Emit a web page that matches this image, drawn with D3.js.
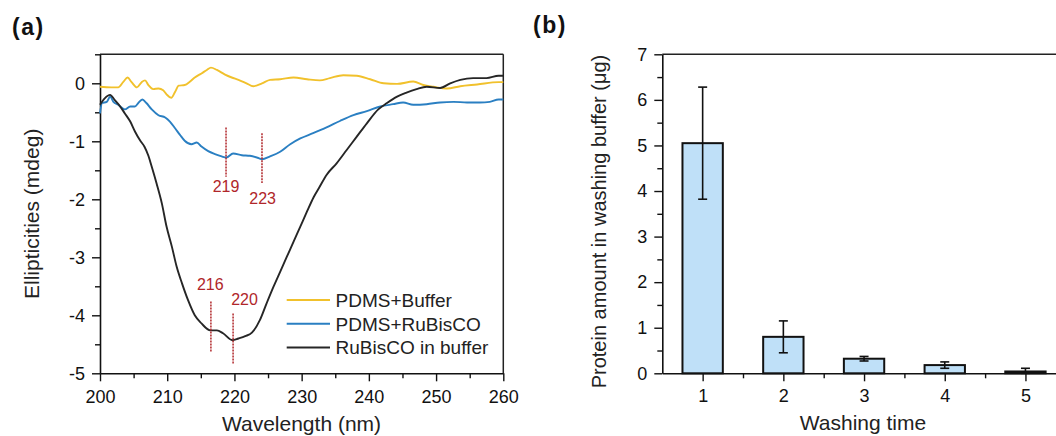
<!DOCTYPE html>
<html>
<head>
<meta charset="utf-8">
<script src="https://cdn.jsdelivr.net/npm/d3@7"></script>
<style>
  html, body { margin: 0; padding: 0; background: #fff; }
  svg { display: block; font-family: "Liberation Sans", Arial, sans-serif; }
  svg text { font-family: "Liberation Sans", Arial, sans-serif; }
</style>
</head>
<body>
<svg id="chart" width="1056" height="436"></svg>
<script>
// ---------------- DATA ----------------
// Panel (a): CD spectra, [wavelength nm, ellipticity mdeg]
const pdmsBuffer = [
  [200.0,-0.06],[201.7,-0.07],[202.7,-0.07],[203.5,0.03],[204.1,0.10],[204.7,0.02],[205.5,-0.07],
  [206.2,0.02],[206.7,0.05],[207.2,-0.03],[207.9,-0.10],[208.7,-0.09],[209.4,-0.12],[209.9,-0.19],
  [210.6,-0.25],[211.2,-0.14],[211.7,-0.04],[212.6,-0.03],[213.4,0.03],[214.1,0.10],[215.1,0.17],
  [215.9,0.23],[216.5,0.27],[217.4,0.23],[218.6,0.15],[219.6,0.10],[220.6,0.06],[221.8,0.0],
  [222.8,-0.05],[224.1,0.0],[225.3,0.06],[226.8,0.07],[228.8,0.10],[230.8,0.07],[232.7,0.05],
  [234.2,0.09],[236.2,0.14],[238.2,0.13],[240.2,0.07],[242.2,0.0],[244.2,-0.01],[246.6,0.03],
  [248.1,-0.03],[249.6,-0.06],[251.6,-0.09],[253.6,-0.05],[256.1,-0.02],[259.3,0.02],[260.0,0.02]
];
const pdmsRubisco = [
  [200.0,-0.52],[200.3,-0.34],[201.0,-0.32],[201.5,-0.23],[202.0,-0.32],[202.7,-0.37],[203.7,-0.45],
  [204.5,-0.40],[205.2,-0.40],[205.7,-0.34],[206.3,-0.28],[206.9,-0.34],[207.7,-0.45],[208.7,-0.55],
  [209.7,-0.59],[210.4,-0.66],[211.2,-0.78],[211.9,-0.89],[212.6,-0.99],[213.6,-1.05],[214.4,-1.02],
  [215.1,-1.09],[216.1,-1.17],[217.1,-1.22],[218.1,-1.26],[218.8,-1.28],[219.8,-1.21],[221.1,-1.24],
  [222.3,-1.25],[223.6,-1.29],[224.1,-1.31],[225.3,-1.26],[226.8,-1.18],[228.3,-1.05],[229.8,-0.95],
  [231.7,-0.86],[233.7,-0.76],[235.7,-0.65],[237.7,-0.55],[239.7,-0.48],[241.7,-0.40],[243.6,-0.36],
  [245.1,-0.33],[246.6,-0.37],[248.6,-0.36],[250.6,-0.33],[252.6,-0.32],[254.6,-0.33],[256.5,-0.33],
  [258.0,-0.32],[259.3,-0.28],[260.0,-0.28]
];
const rubiscoBuffer = [
  [200.0,-0.37],[200.7,-0.26],[201.5,-0.20],[202.2,-0.29],[203.0,-0.40],[203.7,-0.52],[204.5,-0.66],
  [205.2,-0.83],[206.0,-0.99],[206.6,-1.09],[207.2,-1.25],[207.7,-1.44],[208.4,-1.72],[209.2,-2.07],
  [209.9,-2.47],[210.7,-2.82],[211.4,-3.16],[212.2,-3.45],[213.1,-3.74],[214.1,-4.00],[215.1,-4.14],
  [216.4,-4.26],[217.4,-4.26],[218.3,-4.31],[219.7,-4.43],[220.6,-4.40],[221.6,-4.36],[222.6,-4.30],
  [223.8,-4.08],[224.8,-3.79],[225.8,-3.51],[226.8,-3.25],[227.8,-2.99],[228.8,-2.73],[229.8,-2.47],
  [230.8,-2.21],[231.8,-1.96],[232.7,-1.78],[233.7,-1.58],[235.2,-1.38],[236.7,-1.15],[238.2,-0.92],
  [239.7,-0.69],[241.4,-0.45],[242.7,-0.34],[244.2,-0.23],[245.6,-0.16],[247.1,-0.10],[248.6,-0.06],
  [250.6,-0.08],[252.1,0.0],[253.6,0.06],[255.5,0.09],[257.5,0.09],[259.3,0.13],[260.0,0.13]
];
const seriesNames = ["PDMS+Buffer", "PDMS+RuBisCO", "RuBisCO in buffer"];
// peak markers: wavelength position, y span, label
const markerX = [218.75, 224.1, 216.5, 219.8];
const markerY1 = [-0.76, -0.86, -3.76, -3.97];
const markerY2 = [-1.61, -1.72, -4.63, -4.83];
const markerLabels = ["219", "223", "216", "220"];
const xTicksA = [200, 210, 220, 230, 240, 250, 260];
const yTicksA = [0, -1, -2, -3, -4, -5];

// Panel (b): washing
const washing = [1, 2, 3, 4, 5];
const protein = [5.05, 0.80, 0.32, 0.18, 0.04];
const proteinErr = [1.23, 0.35, 0.05, 0.07, 0.07];
const yTicksB = [0, 1, 2, 3, 4, 5, 6, 7];

// ---------------- DRAW ----------------
const svg = d3.select("#chart");
const colors = ["#f1c12c", "#2a7fc2", "#262626"];
const markerColor = "#b0262a";
const FONT = "'Liberation Sans', Arial, sans-serif";

function styleAxis(g) {
  g.attr("font-family", FONT).attr("font-size", 18);
  g.select(".domain").attr("stroke", "#111").attr("stroke-width", 1.6);
  g.selectAll(".tick line").attr("stroke", "#111").attr("stroke-width", 1.4);
  g.selectAll(".tick text").attr("fill", "#111");
}
function styleMinor(g) {
  g.select(".domain").remove();
  g.selectAll(".tick line").attr("stroke", "#111").attr("stroke-width", 1.4);
}

// ---- Panel (a)
const xA = d3.scaleLinear().domain([200, 260]).range([100, 503.3]);
const yA = d3.scaleLinear().domain([-5, 0.5]).range([373.3, 54.3]);
const gA = svg.append("g");

gA.append("line").attr("x1", xA(200)).attr("x2", xA(260)).attr("y1", yA(0.5)).attr("y2", yA(0.5))
  .attr("stroke", "#222").attr("stroke-width", 1.5);
gA.append("line").attr("x1", xA(260)).attr("x2", xA(260)).attr("y1", yA(0.5)).attr("y2", yA(-5))
  .attr("stroke", "#222").attr("stroke-width", 1.5);

gA.append("g").attr("transform", `translate(0,${yA(-5)})`)
  .call(d3.axisBottom(xA).tickValues(d3.range(205, 260, 10)).tickSize(5).tickFormat("").tickSizeOuter(0))
  .call(styleMinor);
gA.append("g").attr("transform", `translate(${xA(200)},0)`)
  .call(d3.axisLeft(yA).tickValues(d3.range(-4.5, 0.6, 1)).tickSize(5).tickFormat("").tickSizeOuter(0))
  .call(styleMinor);

gA.append("g").attr("transform", `translate(0,${yA(-5)})`)
  .call(d3.axisBottom(xA).tickValues(xTicksA).tickSize(8).tickSizeOuter(0).tickPadding(9).tickFormat(d3.format("d")))
  .call(styleAxis);
gA.append("g").attr("transform", `translate(${xA(200)},0)`)
  .call(d3.axisLeft(yA).tickValues(yTicksA).tickSize(8).tickSizeOuter(0).tickPadding(7).tickFormat(d => String(d)))
  .call(styleAxis);

const lineA = d3.line().x(d => xA(d[0])).y(d => yA(d[1])).curve(d3.curveMonotoneX);
[pdmsBuffer, pdmsRubisco, rubiscoBuffer].forEach((s, i) => {
  gA.append("path").datum(s).attr("d", lineA).attr("fill", "none")
    .attr("stroke", colors[i]).attr("stroke-width", 1.9).attr("stroke-linejoin", "round");
});

markerX.forEach((mx, i) => {
  gA.append("line").attr("x1", xA(mx)).attr("x2", xA(mx))
    .attr("y1", yA(markerY1[i])).attr("y2", yA(markerY2[i]))
    .attr("stroke", markerColor).attr("stroke-width", 1.5).attr("stroke-dasharray", "2,1");
});
const markerLabelX = [218.75, 224.2, 216.4, 221.5];
const markerLabelY = [-1.88, -2.08, -3.57, -3.83];
markerLabels.forEach((t, i) => {
  gA.append("text").attr("x", xA(markerLabelX[i])).attr("y", yA(markerLabelY[i]))
    .attr("text-anchor", "middle").attr("font-size", 16).attr("fill", markerColor).text(t);
});

seriesNames.forEach((n, i) => {
  const ly = 300 + i * 23.8;
  gA.append("line").attr("x1", 286.7).attr("x2", 330).attr("y1", ly).attr("y2", ly)
    .attr("stroke", colors[i]).attr("stroke-width", 2);
  gA.append("text").attr("x", 335.5).attr("y", ly + 6.8).attr("font-size", 19).attr("fill", "#222").text(n);
});

gA.append("text").attr("x", 301.5).attr("y", 431).attr("text-anchor", "middle")
  .attr("font-size", 21).attr("fill", "#222").text("Wavelength (nm)");
gA.append("text").attr("transform", `translate(38.5,${yA(-2.25)}) rotate(-90)`).attr("text-anchor", "middle")
  .attr("font-size", 21).attr("fill", "#222").text("Ellipticities (mdeg)");
svg.append("text").attr("x", 12).attr("y", 35).attr("font-size", 23).attr("font-weight", "bold")
  .attr("letter-spacing", 1.5).attr("fill", "#111").text("(a)");

// ---- Panel (b)
const xB = d3.scaleLinear().domain([0.5, 5.5]).range([662.3, 1065.8]);
const yB = d3.scaleLinear().domain([0, 7]).range([373.3, 54.3]);
const gB = svg.append("g");

gB.append("line").attr("x1", xB(0.5)).attr("x2", xB(5.5)).attr("y1", yB(7)).attr("y2", yB(7))
  .attr("stroke", "#222").attr("stroke-width", 1.5);

const bw = xB(1) - xB(0.5);
gB.selectAll("rect.bar").data(washing).enter().append("rect")
  .attr("x", d => xB(d) - bw / 2)
  .attr("width", bw)
  .attr("y", (d, i) => yB(protein[i]))
  .attr("height", (d, i) => yB(0) - yB(protein[i]))
  .attr("fill", "#bfe0f8").attr("stroke", "#111").attr("stroke-width", 2);

washing.forEach((d, i) => {
  const cx = xB(d), top = yB(protein[i] + proteinErr[i]), bot = yB(Math.max(0, protein[i] - proteinErr[i]));
  gB.append("line").attr("x1", cx).attr("x2", cx).attr("y1", top).attr("y2", bot)
    .attr("stroke", "#111").attr("stroke-width", 1.6);
  [top, bot].forEach(yy => gB.append("line").attr("x1", cx - 4.5).attr("x2", cx + 4.5)
    .attr("y1", yy).attr("y2", yy).attr("stroke", "#111").attr("stroke-width", 1.6));
});

gB.append("g").attr("transform", `translate(0,${yB(0)})`)
  .call(d3.axisBottom(xB).tickValues([1.5, 2.5, 3.5, 4.5]).tickSize(5).tickFormat("").tickSizeOuter(0))
  .call(styleMinor);
gB.append("g").attr("transform", `translate(${xB(0.5)},0)`)
  .call(d3.axisLeft(yB).tickValues(d3.range(0.5, 7, 1)).tickSize(5).tickFormat("").tickSizeOuter(0))
  .call(styleMinor);

gB.append("g").attr("transform", `translate(0,${yB(0)})`)
  .call(d3.axisBottom(xB).tickValues(washing).tickSize(8).tickSizeOuter(0).tickPadding(8).tickFormat(d3.format("d")))
  .call(styleAxis);
gB.append("g").attr("transform", `translate(${xB(0.5)},0)`)
  .call(d3.axisLeft(yB).tickValues(yTicksB).tickSize(8).tickSizeOuter(0).tickPadding(7).tickFormat(d3.format("d")))
  .call(styleAxis);

gB.append("text").attr("x", 863).attr("y", 430).attr("text-anchor", "middle")
  .attr("font-size", 21).attr("fill", "#222").text("Washing time");
gB.append("text").attr("transform", `translate(606,${yB(3.33)}) rotate(-90)`).attr("text-anchor", "middle")
  .attr("font-size", 20).attr("fill", "#222").text("Protein amount in washing buffer (μg)");
svg.append("text").attr("x", 533).attr("y", 33).attr("font-size", 23).attr("font-weight", "bold")
  .attr("letter-spacing", 1.5).attr("fill", "#111").text("(b)");
</script>
</body>
</html>
